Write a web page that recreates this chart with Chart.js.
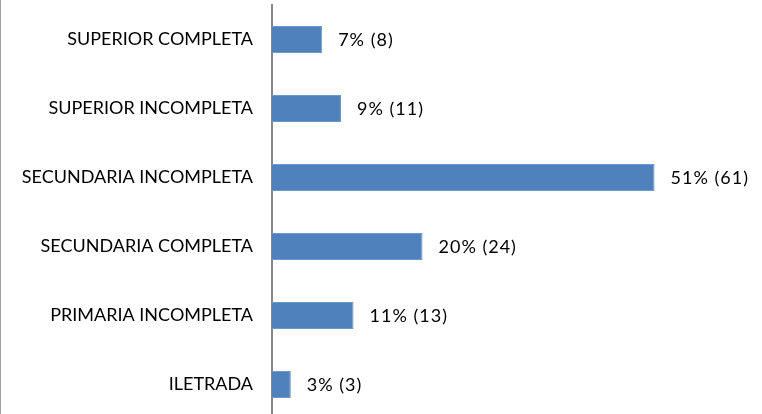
<!DOCTYPE html>
<html>
<head>
<meta charset="utf-8">
<script src="https://cdn.jsdelivr.net/npm/chart.js@4.4.0/dist/chart.umd.min.js"></script>
<style>
  html, body { margin: 0; padding: 0; background: #fff; overflow: hidden; }
</style>
</head>
<body>
<canvas id="myChart" width="762" height="419"></canvas>
<script>
// datos
var categorias = [
  'SUPERIOR COMPLETA',
  'SUPERIOR INCOMPLETA',
  'SECUNDARIA INCOMPLETA',
  'SECUNDARIA COMPLETA',
  'PRIMARIA INCOMPLETA',
  'ILETRADA'
];
var cantidades = [8, 11, 61, 24, 13, 3];
var porcentajes = [7, 9, 51, 20, 11, 3];

var fuente = '18px Lato';

// escribe "7% (8)" al final de cada barra
var etiquetas = {
  id: 'etiquetas',
  afterDatasetsDraw: function(chart){
    var ctx = chart.ctx;
    var meta = chart.getDatasetMeta(0);
    ctx.save();
    ctx.font = fuente;
    ctx.letterSpacing = '1px';
    ctx.fillStyle = '#000';
    ctx.textAlign = 'left';
    ctx.textBaseline = 'middle';
    meta.data.forEach(function(bar, i){
      ctx.fillText(porcentajes[i] + '% (' + cantidades[i] + ')', bar.x + 16, bar.y + 1);
    });
    ctx.restore();
  }
};

// linea gris del borde izquierdo
var borde = {
  id: 'borde',
  beforeDraw: function(chart){
    var ctx = chart.ctx;
    ctx.save();
    ctx.strokeStyle = '#a0a0a0';
    ctx.lineWidth = 1;
    ctx.beginPath();
    ctx.moveTo(0.5, 0);
    ctx.lineTo(0.5, chart.height);
    ctx.stroke();
    ctx.restore();
  }
};

var data = {
  labels: categorias,
  datasets: [{
    data: cantidades,
    backgroundColor: '#4F81BD',
    borderColor: '#6d98cc',
    borderWidth: 1,
    barPercentage: 0.39,
    categoryPercentage: 1
  }]
};

var config = {
  type: 'bar',
  data: data,
  options: {
    indexAxis: 'y',
    responsive: false,
    animation: false,
    layout: { padding: { top: 5, right: 51, bottom: 0, left: 0 } },
    plugins: { legend: { display: false }, tooltip: { enabled: false } },
    scales: {
      x: { display: false, min: 0, max: 70 },
      y: {
        afterFit: function(scale){
          scale.width = 272;
          scale.paddingTop = 0;
          scale.paddingBottom = 0;
        },
        grid: { display: false, drawTicks: false },
        border: { display: true, color: '#868686', width: 2 },
        ticks: { padding: 19, color: '#000', font: { family: 'Lato', size: 18 } }
      }
    }
  },
  plugins: [etiquetas, borde]
};

var myChart = new Chart(document.getElementById('myChart'), config);
</script>
</body>
</html>
